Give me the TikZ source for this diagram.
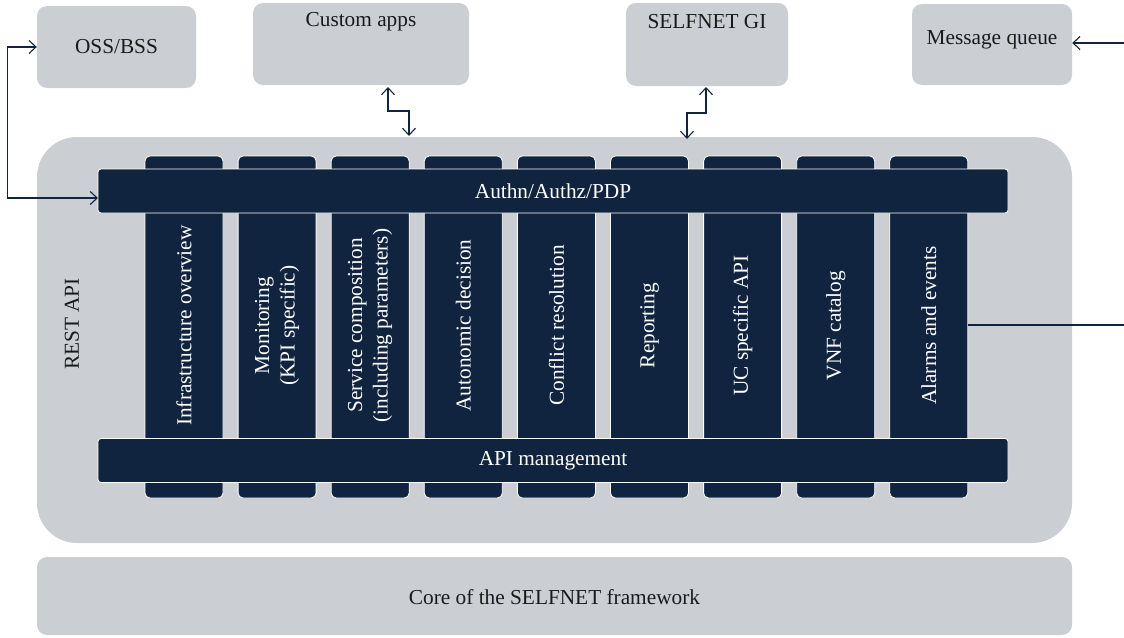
\documentclass[tikz,border=0pt]{standalone}
\usepackage{fontspec}
\setmainfont{Liberation Serif}
\usetikzlibrary{arrows.meta,calc}
\definecolor{boxgray}{RGB}{203,206,211}
\definecolor{navy}{RGB}{16,36,64}
\definecolor{ink}{RGB}{26,26,26}
\begin{document}
\begin{tikzpicture}[x=1pt,y=-1pt,
  font=\fontsize{21.3}{25.5}\selectfont,
  >={Straight Barb[length=7pt,width=13pt]},
  graybox/.style={fill=boxgray,draw=none,rounded corners=10pt,inner sep=0pt},
  colbox/.style={fill=navy,draw=white,line width=0.8pt,rounded corners=5pt,minimum width=78pt,minimum height=342pt,inner sep=0pt},
  barbox/.style={fill=navy,draw=white,line width=0.8pt,rounded corners=3pt,minimum width=910pt,minimum height=44pt,inner sep=0pt,text=white},
  coltext/.style={rotate=90,text=white,align=center,inner sep=0pt},
  dark/.style={text=ink,inner sep=0pt},
  conn/.style={draw=navy,line width=1.1pt}]
\useasboundingbox (0,0) rectangle (1124,637);
% top boxes
\node[graybox,minimum width=159pt,minimum height=82pt] (oss) at (116.5,47) {};
\node[dark] (osst) at (116.5,47) {OSS/BSS};
\node[graybox,minimum width=216pt,minimum height=82pt] (custom) at (361,44) {};
\node[dark] (customt) at (361,22) {Custom apps};
\node[graybox,minimum width=162pt,minimum height=83pt] (gi) at (707,44.5) {};
\node[dark] (git) at (707,22) {SELFNET GI};
\node[graybox,minimum width=160pt,minimum height=81pt] (mq) at (992,44.5) {};
\node[dark] (mqt) at (992,40) {Message queue};
% main box
\node[fill=boxgray,rounded corners=40pt,minimum width=1035pt,minimum height=406pt,inner sep=0pt] (main) at (554.5,340) {};
\node[dark,rotate=90] (rest) at (72,324) {REST API};
% columns
\foreach \i/\t in {0/{Infrastructure overview},1/{Monitoring\\(KPI specific)},2/{Service composition\\(including parameters)},3/{Autonomic decision},4/{Conflict resolution},5/{Reporting},6/{UC specific API},7/{VNF catalog},8/{Alarms and events}}{
  \node[colbox] (col\i) at ({184+93.1*\i},327) {};
  \node[coltext] (colt\i) at ({184+93.1*\i},325.5) {\t};
}
\node[barbox] (authn) at (553,191) {Authn/Authz/PDP};
\node[barbox] (apim) at (553,460.5) {API management};
% core
\node[graybox,minimum width=1035pt,minimum height=78pt] (core) at (554.5,596) {};
\node[dark] (coret) at (554.5,597) {Core of the SELFNET framework};
% connectors
\coordinate (ossin) at (98,198);
\draw[conn,<->] (oss.west) -- ++(-29,0) |- (ossin);
\coordinate (cu1) at (388,87);
\coordinate (cu2) at (409,136);
\draw[conn,<->] (cu1) -- (388,111) -| (cu2);
\coordinate (gi1) at (706,87);
\coordinate (gi2) at (687,139);
\draw[conn,<->] (gi1) -- (706,113) -| (gi2);
\coordinate (mqin) at (1124,43);
\draw[conn,->] (mqin) -- (mq.east |- mqin);
\coordinate (rout) at (1124,325);
\draw[conn] (col8.east |- rout) -- (rout);
\end{tikzpicture}
\end{document}
